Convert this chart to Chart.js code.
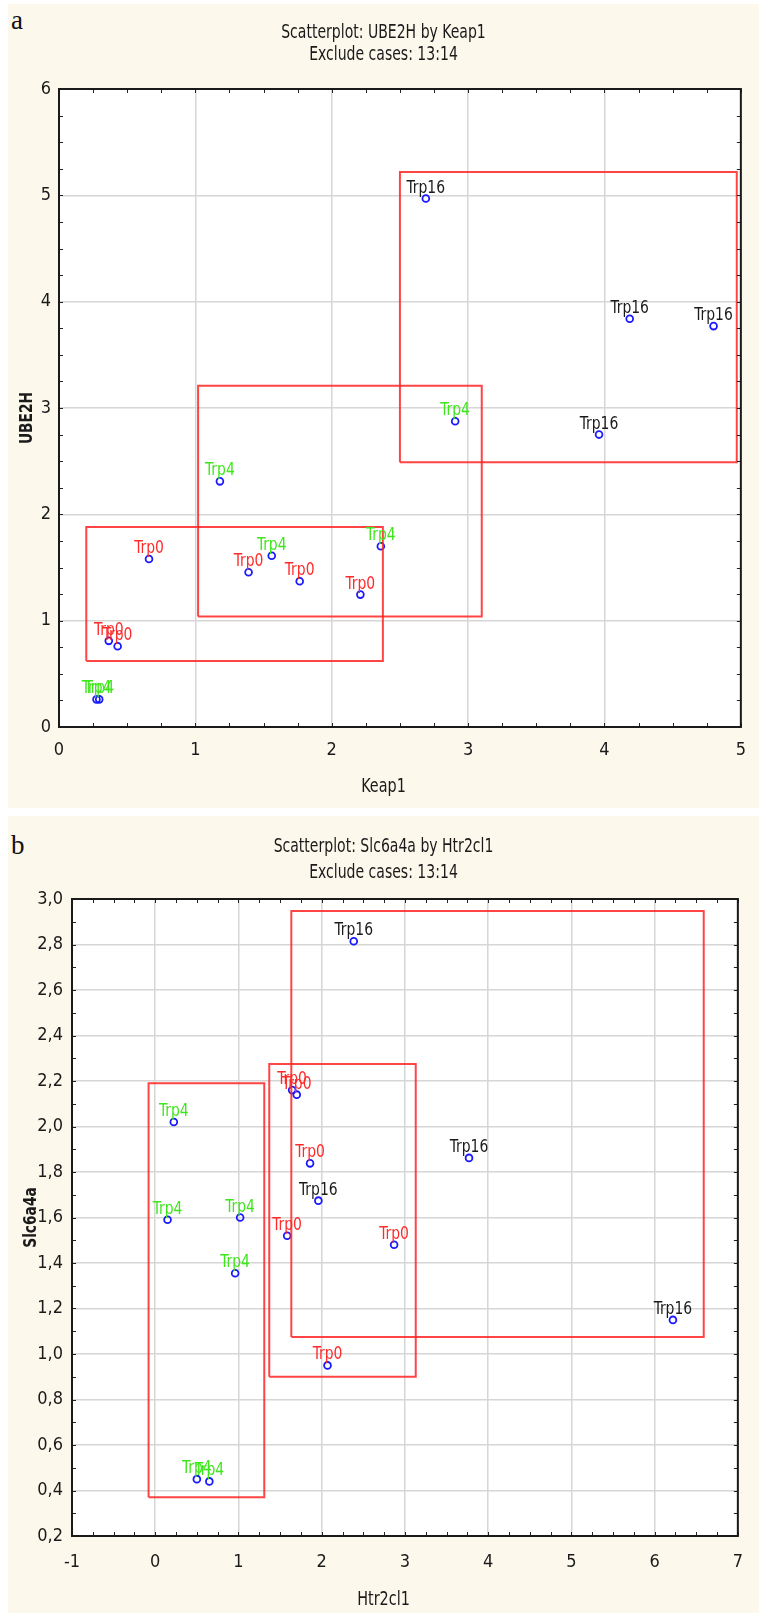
<!DOCTYPE html>
<html>
<head>
<meta charset="utf-8">
<script src="https://cdn.jsdelivr.net/npm/chart.js@4.4.0/dist/chart.umd.min.js"></script>
<style>
  body { margin: 0; background: #fff; width: 759px; height: 1616px; position: relative; overflow: hidden; }
  .panel { position: absolute; left: 8px; width: 751px; background: #fcf8ec; }
  #panelA { top: 4px; height: 804px; }
  #panelB { top: 816px; height: 797px; }
  .letter { position: absolute; left: 3px; font-family: 'Liberation Serif', 'DejaVu Serif', serif; font-size: 27px; line-height: 27px; color: #111; }
  canvas { position: absolute; left: 0; top: 0; }
</style>
</head>
<body>
<div class="panel" id="panelA">
  <div class="letter" style="top:3px">a</div>
  <canvas id="chartA" width="751" height="804"></canvas>
</div>
<div class="panel" id="panelB">
  <div class="letter" style="top:16px">b</div>
  <canvas id="chartB" width="751" height="797"></canvas>
</div>
<script>
// ---- panel a : UBE2H by Keap1 ----
const keap1Trp0  = [0.66, 1.39, 1.765, 2.21, 0.365, 0.43];
const ube2hTrp0  = [1.58, 1.455, 1.37, 1.245, 0.81, 0.76];
const keap1Trp4  = [2.905, 1.18, 1.56, 2.36, 0.275, 0.295];
const ube2hTrp4  = [2.876, 2.31, 1.61, 1.70, 0.26, 0.26];
const keap1Trp16 = [2.69, 4.185, 4.80, 3.96];
const ube2hTrp16 = [4.97, 3.84, 3.77, 2.75];
// boxes: [xFrom, xTo, yFrom, yTo]
const boxesA = [[0.20, 2.375, 0.62, 1.88], [1.02, 3.10, 1.04, 3.21], [2.50, 4.97, 2.49, 5.22]];
const xTicksA = [0, 1, 2, 3, 4, 5];
const yTicksA = [0, 1, 2, 3, 4, 5, 6];

// ---- panel b : Slc6a4a by Htr2cl1 ----
const htrTrp0  = [1.645, 1.70, 1.86, 1.585, 2.87, 2.07];
const slcTrp0  = [2.16, 2.14, 1.838, 1.52, 1.48, 0.95];
const htrTrp4  = [0.223, 0.148, 1.02, 0.96, 0.50, 0.65];
const slcTrp4  = [2.02, 1.59, 1.60, 1.355, 0.45, 0.44];
const htrTrp16 = [2.385, 3.77, 1.96, 6.22];
const slcTrp16 = [2.814, 1.862, 1.674, 1.15];
const boxesB = [[-0.08, 1.31, 0.37, 2.19], [1.37, 3.13, 0.90, 2.275], [1.635, 6.59, 1.075, 2.947]];
const xTicksB = [-1, 0, 1, 2, 3, 4, 5, 6, 7];
const yTicksB = [0.2, 0.4, 0.6, 0.8, 1.0, 1.2, 1.4, 1.6, 1.8, 2.0, 2.2, 2.4, 2.6, 2.8, 3.0];

const NARROW = "'Liberation Sans Narrow', 'DejaVu Sans Condensed', 'Arial Narrow', sans-serif";
const isOn = (list, v) => list.some(t => Math.abs(t - v) < 1e-6);

// narrow-looking text: squeeze horizontally around the anchor
function squeezed(ctx, text, x, y, sx) {
  ctx.save();
  ctx.translate(x, y);
  ctx.scale(sx, 1);
  ctx.fillText(text, 0, 0);
  ctx.restore();
}

const panelPlugin = {
  id: 'panelPlugin',
  beforeDraw(chart) {
    const { ctx, chartArea: a } = chart;
    ctx.save();
    ctx.fillStyle = '#ffffff';
    ctx.fillRect(a.left, a.top, a.right - a.left, a.bottom - a.top);
    ctx.restore();
  },
  afterDatasetsDraw(chart) {
    const ctx = chart.ctx;
    ctx.save();
    ctx.font = '18px ' + NARROW;
    ctx.textAlign = 'center';
    ctx.textBaseline = 'alphabetic';
    chart.data.datasets.forEach((ds, i) => {
      if (!ds.tag) return;
      ctx.fillStyle = ds.tagColor;
      chart.getDatasetMeta(i).data.forEach(el => {
        squeezed(ctx, ds.tag, el.x, el.y - 6, 0.86);
      });
    });
    ctx.restore();
  },
  afterDraw(chart) {
    const { ctx, chartArea: a, scales } = chart;
    const o = chart.options.plugins.panelPlugin;
    ctx.save();
    // inward ticks
    ctx.strokeStyle = '#222';
    ctx.lineWidth = 1;
    ctx.beginPath();
    scales.x.ticks.forEach(t => {
      const px = Math.round(scales.x.getPixelForValue(t.value)) + 0.5;
      ctx.moveTo(px, a.bottom); ctx.lineTo(px, a.bottom - 4);
      ctx.moveTo(px, a.top); ctx.lineTo(px, a.top + 4);
    });
    scales.y.ticks.forEach(t => {
      const py = Math.round(scales.y.getPixelForValue(t.value)) + 0.5;
      ctx.moveTo(a.left, py); ctx.lineTo(a.left + 4, py);
      ctx.moveTo(a.right, py); ctx.lineTo(a.right - 4, py);
    });
    ctx.stroke();
    // frame
    ctx.strokeStyle = '#1a1a1a';
    ctx.lineWidth = 2;
    ctx.strokeRect(a.left, a.top, a.right - a.left, a.bottom - a.top);
    // titles
    ctx.fillStyle = '#1a1a1a';
    ctx.textAlign = 'center';
    ctx.textBaseline = 'middle';
    ctx.font = '20px ' + NARROW;
    const cx = chart.width / 2;
    squeezed(ctx, o.title[0], cx, o.titleY[0], 0.78);
    squeezed(ctx, o.title[1], cx, o.titleY[1], 0.78);
    squeezed(ctx, o.xTitle, cx, o.xTitleY, 0.8);
    ctx.translate(o.yTitleX, (a.top + a.bottom) / 2 + o.yTitleShift);
    ctx.rotate(-Math.PI / 2);
    ctx.font = 'bold 18px ' + NARROW;
    squeezed(ctx, o.yTitle, 0, 0, 0.85);
    ctx.restore();
  }
};

function groupSet(name, color, xs, ys) {
  return {
    label: name, tag: name, tagColor: color,
    data: xs.map((v, i) => ({ x: v, y: ys[i] })),
    showLine: false,
    pointRadius: 3.4,
    pointBorderWidth: 1.8,
    pointBorderColor: '#1a1aff',
    pointBackgroundColor: 'rgba(0,0,0,0)'
  };
}

function boxSet(b) {
  return {
    data: [{ x: b[0], y: b[2] }, { x: b[1], y: b[2] }, { x: b[1], y: b[3] }, { x: b[0], y: b[3] }, { x: b[0], y: b[2] }],
    showLine: true,
    borderColor: 'rgba(255,35,35,0.85)',
    borderWidth: 2,
    pointRadius: 0,
    fill: false,
    tension: 0
  };
}

function makeChart(id, p) {
  const datasets = p.boxes.map(boxSet).concat(p.groups);
  return new Chart(document.getElementById(id), {
    type: 'scatter',
    data: { datasets },
    options: {
      responsive: false,
      animation: false,
      devicePixelRatio: 1,
      layout: { padding: { top: p.plotTop, right: p.width - p.plotRight, left: 0, bottom: 0 } },
      plugins: {
        legend: { display: false },
        tooltip: { enabled: false },
        panelPlugin: { title: p.title, titleY: p.titleY, xTitle: p.xTitle, yTitle: p.yTitle, xTitleY: p.xTitleY, yTitleX: p.yTitleX, yTitleShift: p.yTitleShift }
      },
      scales: {
        x: {
          type: 'linear',
          min: p.xTicks[0], max: p.xTicks[p.xTicks.length - 1],
          ticks: {
            stepSize: p.xStep, autoSkip: false, maxRotation: 0, padding: p.xPad,
            color: '#1a1a1a', font: { family: NARROW, size: 18 },
            callback: v => isOn(p.xTicks, v) ? p.fmtX(v) : ''
          },
          grid: { drawTicks: false, lineWidth: 1.5, color: c => isOn(p.xTicks, c.tick.value) ? '#d6d6d6' : 'rgba(0,0,0,0)' },
          border: { display: false },
          afterFit: s => { s.height = p.height - p.plotBottom; }
        },
        y: {
          type: 'linear',
          min: p.yTicks[0], max: p.yTicks[p.yTicks.length - 1],
          ticks: {
            stepSize: p.yStep, autoSkip: false, padding: p.yPad,
            color: '#1a1a1a', font: { family: NARROW, size: 18 },
            callback: v => isOn(p.yTicks, v) ? p.fmtY(v) : ''
          },
          grid: { drawTicks: false, lineWidth: 1.5, color: c => isOn(p.yTicks, c.tick.value) ? '#d6d6d6' : 'rgba(0,0,0,0)' },
          border: { display: false },
          afterFit: s => { s.width = p.plotLeft; }
        }
      }
    },
    plugins: [panelPlugin]
  });
}

makeChart('chartA', {
  width: 751, height: 804, plotLeft: 51, plotRight: 738, plotTop: 85, plotBottom: 723,
  xTicks: xTicksA, yTicks: yTicksA, xStep: 0.25, yStep: 0.25, xPad: 13, yPad: 8,
  fmtX: v => String(Math.round(v)), fmtY: v => String(Math.round(v)),
  boxes: boxesA,
  groups: [
    groupSet('Trp0', '#ff2a2a', keap1Trp0, ube2hTrp0),
    groupSet('Trp4', '#3ee61c', keap1Trp4, ube2hTrp4),
    groupSet('Trp16', '#1a1a1a', keap1Trp16, ube2hTrp16)
  ],
  title: ['Scatterplot: UBE2H by Keap1', 'Exclude cases: 13:14'], titleY: [29, 51],
  xTitle: 'Keap1', yTitle: 'UBE2H', xTitleY: 783, yTitleX: 19, yTitleShift: 10
});

makeChart('chartB', {
  width: 751, height: 797, plotLeft: 64, plotRight: 738, plotTop: 83, plotBottom: 720,
  xTicks: xTicksB, yTicks: yTicksB, xStep: 0.25, yStep: 0.1, xPad: 16, yPad: 9,
  fmtX: v => String(Math.round(v)), fmtY: v => v.toFixed(1).replace('.', ','),
  boxes: boxesB,
  groups: [
    groupSet('Trp0', '#ff2a2a', htrTrp0, slcTrp0),
    groupSet('Trp4', '#3ee61c', htrTrp4, slcTrp4),
    groupSet('Trp16', '#1a1a1a', htrTrp16, slcTrp16)
  ],
  title: ['Scatterplot: Slc6a4a by Htr2cl1', 'Exclude cases: 13:14'], titleY: [31, 57],
  xTitle: 'Htr2cl1', yTitle: 'Slc6a4a', xTitleY: 784, yTitleX: 23, yTitleShift: 0
});
</script>
</body>
</html>
